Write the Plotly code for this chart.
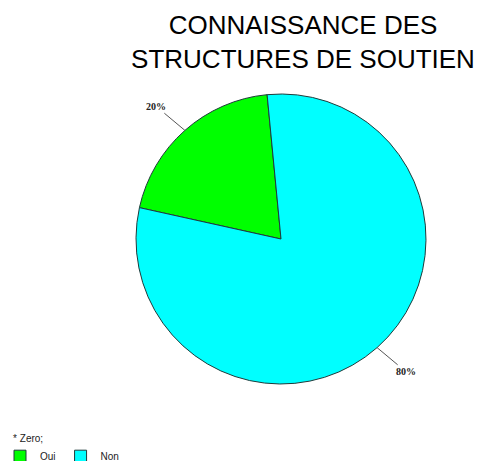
import math
import plotly.graph_objects as go

# Survey answers: awareness of support structures
labels = ["Oui", "Non"]
values = [20, 80]
colors = ["#00FF00", "#00FFFF"]

W, H = 483, 461
# pie placement (pixels): centre and radius
cx_px, cy_px, r_px = 281, 239, 145
# first slice starts here (degrees clockwise from 12 o'clock)
rotation = -77.5

dom_x = [(cx_px - r_px) / W, (cx_px + r_px) / W]
dom_y = [1 - (cy_px + r_px) / H, 1 - (cy_px - r_px) / H]

fig = go.Figure(
    go.Pie(
        labels=labels,
        values=values,
        sort=False,
        direction="counterclockwise",
        rotation=rotation,
        marker=dict(colors=colors, line=dict(color="#1f3a3a", width=1)),
        textinfo="none",
        hoverinfo="label+percent",
        domain=dict(x=dom_x, y=dom_y),
    )
)

# percentage labels with leader lines, placed at each slice's mid-angle
total = sum(values)
cxp = (dom_x[0] + dom_x[1]) / 2
cyp = (dom_y[0] + dom_y[1]) / 2
annotations = []
acc = 0
for lab, v in zip(labels, values):
    mid = rotation + (acc + v / 2) / total * 360
    acc += v
    th = math.radians(mid)
    ex = cxp + (r_px / W) * math.sin(th)
    ey = cyp + (r_px / H) * math.cos(th)
    d = 38
    annotations.append(
        dict(
            x=ex, y=ey, xref="paper", yref="paper",
            ax=d * 1.15 * math.sin(th), ay=-d * 0.85 * math.cos(th),
            text="<b>%d%%</b>" % round(100 * v / total),
            showarrow=True, arrowhead=0, arrowwidth=1, arrowcolor="#555555",
            standoff=0, startstandoff=0,
            font=dict(family="Liberation Serif", size=10, color="#222222"),
        )
    )

fig.update_layout(
    width=W,
    height=H,
    margin=dict(l=0, r=0, t=0, b=0, autoexpand=False),
    paper_bgcolor="white",
    plot_bgcolor="white",
    title=dict(
        text="CONNAISSANCE DES<br>STRUCTURES DE SOUTIEN",
        x=303 / W, xanchor="center",
        y=1 - 34 / H, yanchor="top",
        font=dict(family="Liberation Sans", size=26, color="#000000"),
    ),
    annotations=annotations,
    showlegend=True,
    legend=dict(
        orientation="h",
        x=0.0, y=-0.021, xanchor="left", yanchor="bottom",
        font=dict(family="Liberation Sans", size=10, color="#222222"),
        title=dict(text="    * Zero;", side="top",
                   font=dict(family="Liberation Sans", size=10, color="#222222")),
        itemwidth=30,
        tracegroupgap=0,
    ),
)

fig.write_html("out.html")
